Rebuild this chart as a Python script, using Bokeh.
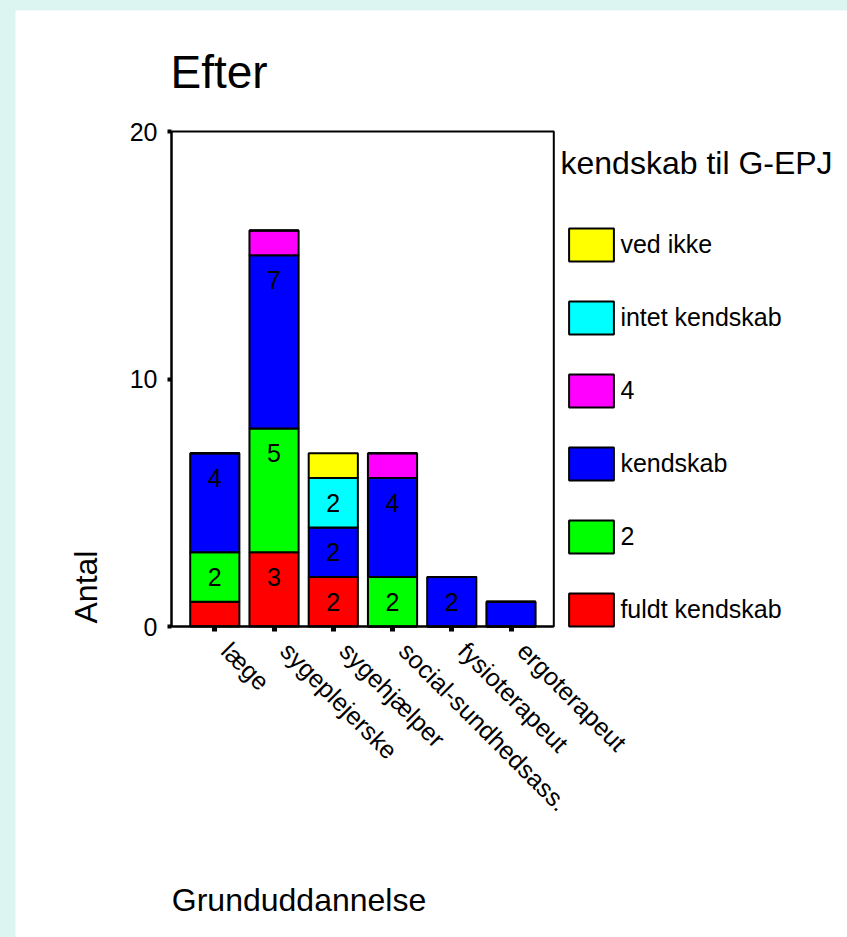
import math
from bokeh.plotting import figure
from bokeh.models import (Range1d, FixedTicker, ColumnDataSource,
                          Legend, LegendItem, Label, BoxAnnotation)
from bokeh.layouts import column
from bokeh.core.properties import value
from bokeh.embed import file_html
from bokeh.resources import INLINE

# ---------------- data ----------------
categories = ["læge", "sygeplejerske", "sygehjælper", "social-sundhedsass.",
              "fysioterapeut", "ergoterapeut"]
series_names = ["fuldt kendskab", "2", "kendskab", "4", "intet kendskab", "ved ikke"]
fuldt_kendskab = [1, 3, 2, 0, 0, 0]
to = [2, 5, 0, 2, 0, 0]
kendskab = [4, 7, 2, 4, 2, 1]
fire = [0, 1, 0, 1, 0, 0]
intet_kendskab = [0, 0, 2, 0, 0, 0]
ved_ikke = [0, 0, 1, 0, 0, 0]
y_ticks = [0, 10, 20]
y_max = 20
colors = ["#ff0000", "#00ff00", "#0000ff", "#ff00ff", "#00ffff", "#ffff00"]

title_text = "Efter"
x_title = "Grunduddannelse"
y_title = "Antal"
legend_title = "kendskab til G-EPJ"

FONT = "Liberation Sans"
series = [fuldt_kendskab, to, kendskab, fire, intet_kendskab, ved_ikke]
keys = ["s%d" % i for i in range(len(series))]
xpos = list(range(len(categories)))

data = {"x": xpos, "cat": categories, "zero": [0] * len(categories)}
for k, s in zip(keys, series):
    data[k] = s
source = ColumnDataSource(data)

# ---------------- layout geometry (page pixels) ----------------
OX, OY = 15, 10            # figure placed at page (15, 10) inside the cyan frame
W, H = 847 - OX, 937 - OY
PX_PER_CAT = 59.24          # horizontal pixels per category
CAT0_PX = 214.3             # page x of first category centre
BOX_L, BOX_R = 171.0, 553.3  # visible plot box
BOX_T, BOX_B = 131.0, 626.0
PX_PER_Y = (BOX_B - BOX_T) / y_max


def dx(px):
    return (px - CAT0_PX) / PX_PER_CAT


def dy(py):
    return (BOX_B - py) / PX_PER_Y


p = figure(x_range=Range1d(dx(OX), dx(OX + W)),
           y_range=Range1d(dy(OY + H), dy(OY)),
           width=W, height=H, output_backend="svg", toolbar_location=None,
           min_border=0, min_border_left=0, min_border_right=0,
           min_border_top=0, min_border_bottom=0)
p.background_fill_color = "white"
p.border_fill_color = "white"
p.outline_line_color = None
p.xgrid.visible = False
p.ygrid.visible = False

renderers = p.vbar_stack(keys, x="x", width=0.83, source=source,
                         color=colors, line_color="black", line_width=2)

# the plot box
p.add_layout(BoxAnnotation(left=dx(BOX_L), right=dx(BOX_R), bottom=0, top=y_max,
                           fill_alpha=0, line_color="black", line_alpha=1,
                           line_width=2))

# value labels inside segments (value >= 2), one unit below the segment top
lx, ly, lt = [], [], []
cum = [0] * len(categories)
for s in series:
    for i, v in enumerate(s):
        cum[i] += v
        if v >= 2:
            lx.append(xpos[i])
            ly.append(cum[i] - 1)
            lt.append(str(v))
p.text(x=lx, y=ly, text=lt, text_align="center", text_baseline="middle",
       text_font=value(FONT), text_font_size="25px", text_color="black")

# axes, fixed at the plot box edges
for ax in (p.xaxis[0], p.yaxis[0]):
    ax.axis_line_color = "black"
    ax.axis_line_width = 2
    ax.major_tick_line_color = "black"
    ax.major_tick_in = 0
    ax.minor_tick_line_color = None
    ax.major_label_text_font = FONT
    ax.major_label_text_font_size = "25px"
    ax.major_label_text_color = "black"

p.yaxis[0].fixed_location = dx(BOX_L)
p.yaxis[0].bounds = (0, y_max)
p.yaxis[0].ticker = FixedTicker(ticks=y_ticks)
p.yaxis[0].major_tick_out = 4
p.yaxis[0].major_tick_line_width = 4
p.yaxis[0].major_label_standoff = 10

p.xaxis[0].fixed_location = 0
p.xaxis[0].bounds = (dx(BOX_L), dx(BOX_R))
p.xaxis[0].ticker = FixedTicker(ticks=xpos)
p.xaxis[0].major_tick_out = 5
p.xaxis[0].major_tick_line_width = 5
p.xaxis[0].major_label_text_color = None

# category names, slanted 45 degrees down to the right from each tick
p.text(x="x", y="zero", text="cat", source=source, angle=-math.pi / 4,
       x_offset=21, y_offset=10, text_align="left", text_baseline="top",
       text_font=value(FONT), text_font_size="25px", text_color="black")

# legend (top item = last stacked series), right of the plot box
# (Bokeh draws the swatch at 80% of the glyph area)
GW, GH = 45 / 0.8, 33 / 0.8
items = [LegendItem(label=n, renderers=[r]) for n, r in zip(series_names, renderers)]
legend = Legend(items=list(reversed(items)),
                location=(569 - 0.1 * GW - OX, OY + H - (BOX_B + 0.1 * GH)),
                glyph_width=int(round(GW)), glyph_height=int(round(GH)), spacing=32,
                padding=0, margin=0, label_standoff=1,
                label_text_font=FONT, label_text_font_size="25px",
                label_text_color="black", border_line_color=None,
                background_fill_alpha=0)
p.add_layout(legend)

# texts (anchored at the bottom of the text box: baseline + descent)
lab = dict(text_font=FONT, text_color="black", text_baseline="bottom")
p.add_layout(Label(x=dx(170), y=dy(87.7 + 0.212 * 46), text=title_text,
                   text_font_size="46px", **lab))
p.add_layout(Label(x=dx(560), y=dy(173.3 + 0.212 * 32), text=legend_title,
                   text_font_size="32px", **lab))
p.add_layout(Label(x=dx(171.3), y=dy(911 + 0.212 * 32), text=x_title,
                   text_font_size="32px", **lab))
p.add_layout(Label(x=dx(96.7 + 0.212 * 32), y=dy(623), text=y_title, angle=math.pi / 2,
                   text_font_size="32px", **lab))

layout = column(p, styles={"background-color": "#ddf5f1",
                           "padding": "%dpx 0 0 %dpx" % (OY, OX)})

open("out.html", "w").write(file_html(layout, INLINE))
